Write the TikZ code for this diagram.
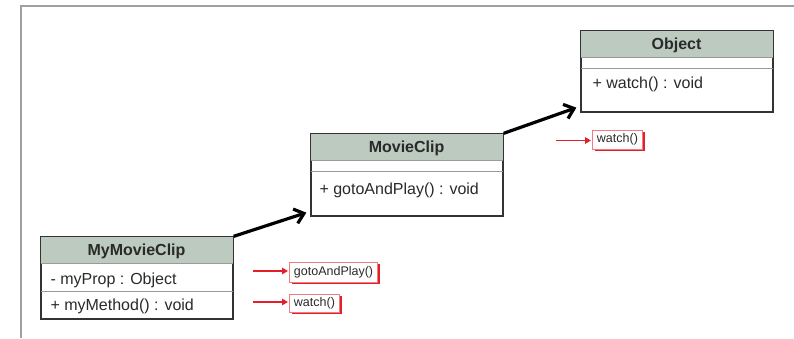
\documentclass[tikz,border=0pt]{standalone}
\usepackage{fontspec}
\setmainfont{Liberation Sans}
\usetikzlibrary{arrows.meta,shadows,calc}
\definecolor{hdrfill}{HTML}{BCCABF}
\definecolor{boxline}{HTML}{333333}
\definecolor{divline}{HTML}{9A9A9A}
\definecolor{txt}{HTML}{2A2A2A}
\definecolor{notered}{HTML}{E3202A}
\definecolor{notepink}{HTML}{F07C80}
\definecolor{framegray}{HTML}{A0A0A0}
\begin{document}
\begin{tikzpicture}[x=1pt,y=-1pt,
  classbox/.style={draw=boxline, line width=1.3pt, fill=white, minimum width=192pt, inner sep=0pt},
  hdrbox/.style={fill=hdrfill, minimum width=192pt, minimum height=27pt, inner sep=0pt, anchor=north west, text=txt, text depth=0pt, font=\fontsize{16}{19}\selectfont\bfseries},
  member/.style={anchor=west, inner sep=0pt, text=txt, font=\fontsize{16}{19}\selectfont},
  divider/.style={draw=divline, line width=1.2pt},
  outline/.style={draw=boxline, line width=1.3pt},
  inherit/.style={draw=black, line width=3.2pt, -{Straight Barb[length=9pt,width=15pt]}},
  note/.style={draw=notepink, line width=0.9pt, fill=white, anchor=west, inner xsep=4.5pt, inner ysep=0pt, text=txt, font=\fontsize{12.5}{14}\selectfont, general shadow={fill=notered, shadow xshift=2.4pt, shadow yshift=-2.4pt}},
  redarrow/.style={draw=notered, line width=1.8pt, -{Triangle[length=6pt,width=6.5pt]}},
  frameline/.style={draw=framegray, line width=1.4pt}]
\useasboundingbox (0,0) rectangle (794,339);
\draw[frameline] (21,338) -- (21,6) -- (794,6);

% Object
\node[classbox, minimum height=81pt] (obj) at (677,71.5) {};
\node[hdrbox] (objh) at (obj.north west) {Object};
\draw[divider] (objh.south west) -- (objh.south east);
\draw[divider] ($(obj.north west)+(0,38)$) -- ($(obj.north east)+(0,38)$);
\node[member] (objm) at ($(obj.north west)+(12,54.5)$) {+ watch() : void};
\draw[outline] (obj.north west) rectangle (obj.south east);

% MovieClip
\node[classbox, minimum height=82pt] (mc) at (407,175) {};
\node[hdrbox] (mch) at (mc.north west) {MovieClip};
\draw[divider] (mch.south west) -- (mch.south east);
\draw[divider] ($(mc.north west)+(0,38)$) -- ($(mc.north east)+(0,38)$);
\node[member] (mcm) at ($(mc.north west)+(9,57)$) {+ gotoAndPlay() : void};
\draw[outline] (mc.north west) rectangle (mc.south east);

% MyMovieClip
\node[classbox, minimum height=82pt] (mymc) at (137,278) {};
\node[hdrbox] (mymch) at (mymc.north west) {MyMovieClip};
\draw[divider] (mymch.south west) -- (mymch.south east);
\draw[divider] ($(mymc.north west)+(0,55)$) -- ($(mymc.north east)+(0,55)$);
\node[member] (mymcp) at ($(mymc.north west)+(10,44)$) {- myProp : Object};
\node[member] (mymcm) at ($(mymc.north west)+(10,70)$) {+ myMethod() : void};
\draw[outline] (mymc.north west) rectangle (mymc.south east);

% inheritance arrows
\coordinate (t1) at ($(mc.south west)+(-4,-4)$);
\coordinate (t2) at ($(obj.south west)+(-4,-5)$);
\draw[inherit] (mymc.north east) -- (t1);
\draw[inherit] (mc.north east) -- (t2);

% notes
\node[note, minimum height=19pt] (n1) at (592,139.5) {watch()};
\node[note, minimum height=20pt] (n2) at (289,272) {gotoAndPlay()};
\node[note, minimum height=18pt] (n3) at (289,303) {watch()};
\coordinate (s1) at ($(n1.west)+(-36,1)$);
\coordinate (e1) at ($(n1.west)+(-1,1)$);
\coordinate (s2) at ($(n2.west)+(-36,-1)$);
\coordinate (e2) at ($(n2.west)+(-1,-1)$);
\coordinate (s3) at ($(n3.west)+(-36,-1)$);
\coordinate (e3) at ($(n3.west)+(-1,-1)$);
\draw[redarrow] (s1) -- (e1);
\draw[redarrow] (s2) -- (e2);
\draw[redarrow] (s3) -- (e3);
\end{tikzpicture}
\end{document}
